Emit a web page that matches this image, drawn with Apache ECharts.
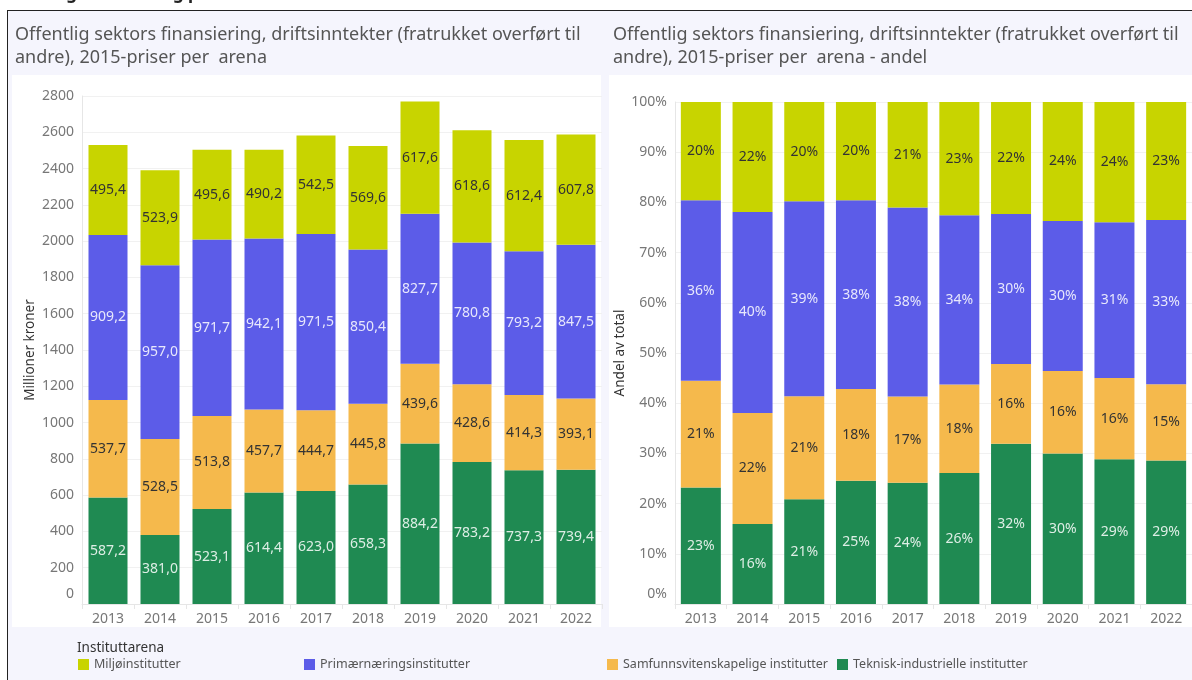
<!DOCTYPE html>
<html>
<head>
<meta charset="utf-8">
<script src="https://cdn.jsdelivr.net/npm/echarts@6/dist/echarts.min.js"></script>
<style>
  body { margin: 0; background: #fff; }
  #wrap { position: relative; width: 1192px; height: 680px; overflow: hidden; font-family: "Noto Sans", sans-serif; }
  .frame { position: absolute; left: 7px; top: 10px; width: 1200px; height: 700px; background: #f5f5fd;
           border-left: 1px solid #222; border-top: 1px solid #222; }
  .panel { position: absolute; top: 75px; height: 552px; background: #fff; }
  #chart { position: absolute; left: 0; top: 0; width: 1192px; height: 680px; }
</style>
</head>
<body>
<div id="wrap">
  <div class="frame"></div>
  <div class="panel" style="left:12px;width:589px"></div>
  <div class="panel" style="left:609px;width:590px"></div>
  <div id="chart"></div>
</div>
<script>
// data (millioner kroner, 2015-priser)
const years = ['2013', '2014', '2015', '2016', '2017', '2018', '2019', '2020', '2021', '2022'];
const teknisk = [587.2, 381.0, 523.1, 614.4, 623.0, 658.3, 884.2, 783.2, 737.3, 739.4];
const samfunn = [537.7, 528.5, 513.8, 457.7, 444.7, 445.8, 439.6, 428.6, 414.3, 393.1];
const primaer = [909.2, 957.0, 971.7, 942.1, 971.5, 850.4, 827.7, 780.8, 793.2, 847.5];
const miljo   = [495.4, 523.9, 495.6, 490.2, 542.5, 569.6, 617.6, 618.6, 612.4, 607.8];

const names = ['Teknisk-industrielle institutter', 'Samfunnsvitenskapelige institutter',
               'Primærnæringsinstitutter', 'Miljøinstitutter'];
const colors = ['#1f8a52', '#f5b94c', '#5c5ce8', '#c8d400'];
const labelColors = ['rgba(255,255,255,0.85)', '#333', 'rgba(255,255,255,0.85)', '#333'];
const series = [teknisk, samfunn, primaer, miljo];

const totals = years.map((_, i) => series.reduce((s, arr) => s + arr[i], 0));

const font = '"Noto Sans", sans-serif';
const fmtNum = v => v.toFixed(1).replace('.', ',');

const chart = echarts.init(document.getElementById('chart'), null, { renderer: 'canvas' });

function zeroLabel(fmt) {
  return function (v) {
    const s = fmt(v);
    return v === 0 ? '{z|' + s + '}' : s;
  };
}

const axisLabelStyle = { color: '#777', fontSize: 14, fontFamily: font };

chart.setOption({
  animation: false,
  textStyle: { fontFamily: font },
  title: [
    { text: 'Offentlig finansiering per arena', left: -4, top: -19,
      textStyle: { fontSize: 17, fontWeight: 'bold', color: '#222' } },
    { text: 'Offentlig sektors finansiering, driftsinntekter (fratrukket overført til\nandre), 2015-priser per  arena',
      left: 10, top: 18, textStyle: { fontSize: 18, lineHeight: 23, fontWeight: 'normal', color: '#555' } },
    { text: 'Offentlig sektors finansiering, driftsinntekter (fratrukket overført til\nandre), 2015-priser per  arena - andel',
      left: 608, top: 18, textStyle: { fontSize: 18, lineHeight: 23, fontWeight: 'normal', color: '#555' } },
    { text: 'Instituttarena', left: 72, top: 636,
      textStyle: { fontSize: 13.5, fontWeight: 'normal', color: '#333' } }
  ],
  legend: names.slice().reverse().map((n, i) => ({
    data: [n],
    left: [78, 304, 607, 837][i],
    top: 658,
    padding: 0,
    icon: 'rect',
    itemWidth: 11,
    itemHeight: 11,
    itemGap: 5,
    textStyle: { fontSize: 12.5, color: '#555' }
  })),
  grid: [
    { left: 82, right: 590, top: 96, bottom: 76 },
    { left: 675, right: -13, top: 102, bottom: 76 }
  ],
  xAxis: [0, 1].map(g => ({
    type: 'category', gridIndex: g, data: years,
    axisLine: { lineStyle: { color: '#e6e6e6' } },
    axisTick: { show: true, length: 5, lineStyle: { color: '#e6e6e6' } },
    axisLabel: Object.assign({ margin: 8 }, axisLabelStyle)
  })),
  yAxis: [
    {
      type: 'value', gridIndex: 0, min: 0, max: 2800, interval: 200,
      name: 'Millioner kroner', nameLocation: 'middle', nameGap: 45,
      nameTextStyle: { color: '#333', fontSize: 13.5 },
      axisLine: { show: true, lineStyle: { color: '#e6e6e6' } },
      splitLine: { lineStyle: { color: '#f1f1f1' } },
      axisLabel: Object.assign({
        margin: 8,
        formatter: zeroLabel(v => String(v)),
        rich: { z: { color: '#777', fontSize: 14, padding: [0, 0, 20, 0] } }
      }, axisLabelStyle)
    },
    {
      type: 'value', gridIndex: 1, min: 0, max: 1, interval: 0.1,
      name: 'Andel av total', nameLocation: 'middle', nameGap: 47,
      nameTextStyle: { color: '#333', fontSize: 13.5 },
      axisLine: { show: true, lineStyle: { color: '#e6e6e6' } },
      splitLine: { lineStyle: { color: '#f1f1f1' } },
      axisLabel: Object.assign({
        margin: 8,
        formatter: zeroLabel(v => Math.round(v * 100) + '%'),
        rich: { z: { color: '#777', fontSize: 14, padding: [0, 0, 20, 0] } }
      }, axisLabelStyle)
    }
  ],
  series: [
    ...series.map((arr, k) => ({
      name: names[k], type: 'bar', stack: 'abs', xAxisIndex: 0, yAxisIndex: 0,
      barWidth: 39, data: arr,
      itemStyle: { color: colors[k] },
      label: { show: true, position: 'inside', fontSize: 14, color: labelColors[k],
               formatter: p => fmtNum(p.value) }
    })),
    ...series.map((arr, k) => ({
      name: names[k], type: 'bar', stack: 'share', xAxisIndex: 1, yAxisIndex: 1,
      barWidth: 40, data: arr.map((v, i) => v / totals[i]),
      itemStyle: { color: colors[k] },
      label: { show: true, position: 'inside', fontSize: 14, color: labelColors[k],
               formatter: p => Math.round(p.value * 100) + '%' }
    }))
  ]
});
</script>
</body>
</html>
